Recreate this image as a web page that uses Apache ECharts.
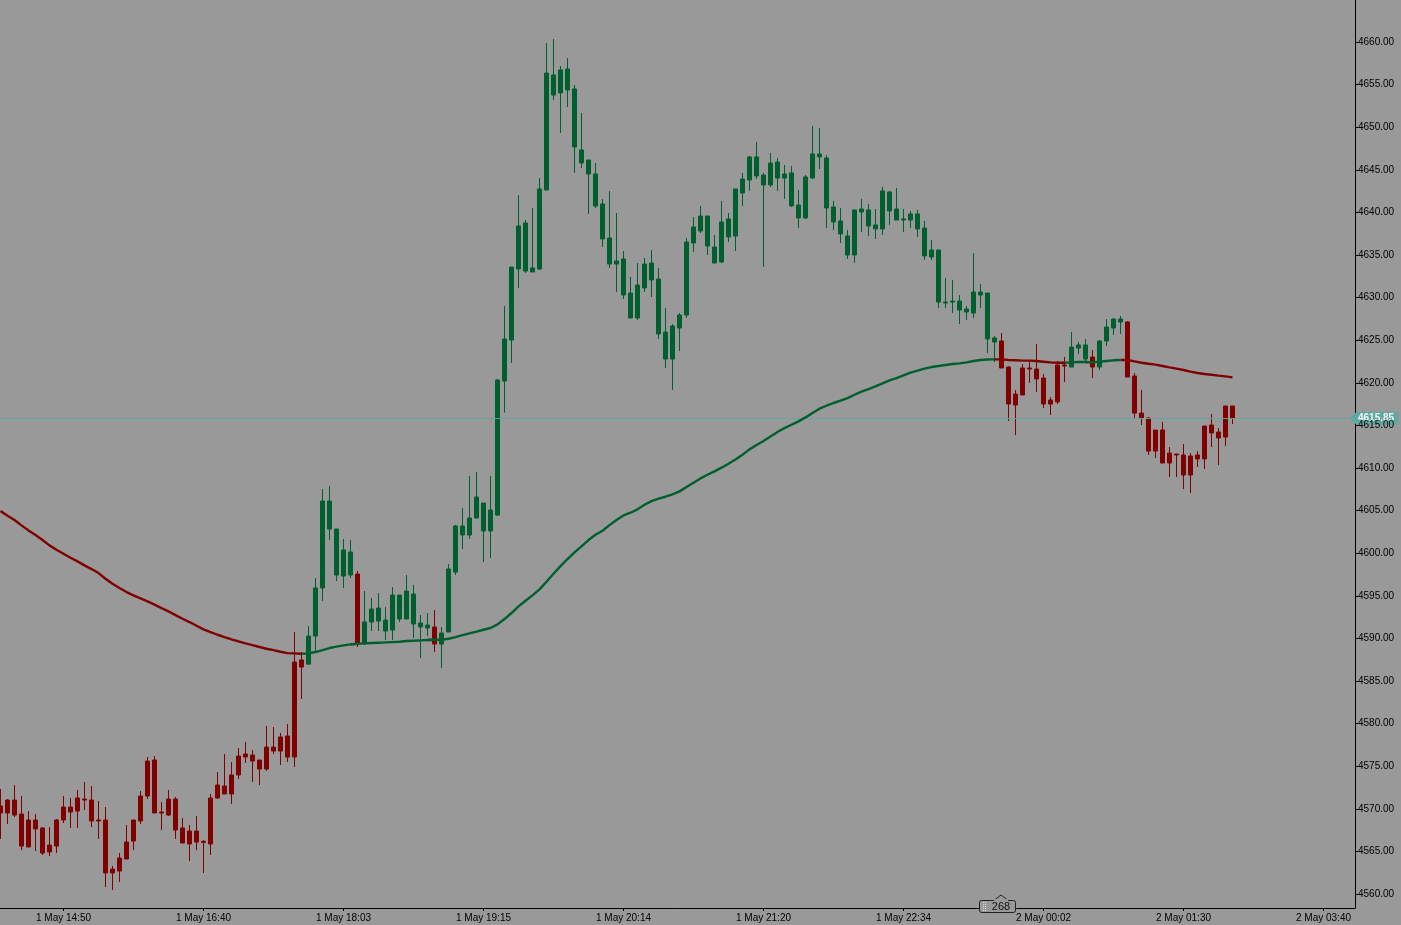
<!DOCTYPE html>
<html>
<head>
<meta charset="utf-8">
<title>Price chart</title>
<style>
  html, body { margin: 0; padding: 0; background: #999999; overflow: hidden; }
  #chart { width: 1401px; height: 925px; }
</style>
<script src="https://cdn.jsdelivr.net/npm/echarts@6/dist/echarts.min.js"></script>
</head>
<body>
<div id="chart"></div>
<script>
// one candle every 7px
const bodyTop = [
  4570.33, 4571.03, 4571.03, 4569.39, 4568.69, 4568.69, 4567.75, 4565.75, 4568.69, 4570.21,
  4570.21, 4571.27, 4571.15, 4571.03, 4568.69, 4568.69, 4562.93, 4564.23, 4566.10, 4568.69,
  4571.50, 4575.61, 4575.73, 4569.62, 4571.15, 4571.15, 4567.75, 4567.39, 4567.39, 4566.18,
  4571.27, 4572.79, 4572.68, 4573.97, 4576.20, 4576.43, 4576.31, 4575.73, 4577.25, 4577.25,
  4578.43, 4578.55, 4587.23, 4587.47, 4590.28, 4595.92, 4606.13, 4606.13, 4602.84, 4600.38,
  4600.14, 4597.56, 4591.93, 4593.45, 4593.57, 4592.16, 4595.09, 4595.09, 4595.56, 4595.21,
  4591.81, 4591.57, 4591.34, 4590.63, 4598.15, 4603.19, 4603.19, 4604.13, 4606.60, 4605.89,
  4605.07, 4620.33, 4625.14, 4633.59, 4638.41, 4638.76, 4633.48, 4642.75, 4656.36, 4656.13,
  4656.72, 4656.83, 4654.49, 4647.33, 4646.15, 4644.51, 4640.99, 4637.00, 4634.30, 4634.53,
  4630.54, 4631.48, 4633.94, 4634.06, 4632.18, 4625.96, 4626.67, 4627.96, 4636.53, 4638.29,
  4639.58, 4639.58, 4635.94, 4638.88, 4639.23, 4642.75, 4643.92, 4646.51, 4646.51, 4644.39,
  4645.80, 4645.92, 4644.51, 4644.63, 4640.87, 4644.16, 4646.86, 4646.86, 4646.39, 4640.64,
  4639.00, 4637.23, 4640.29, 4640.40, 4640.29, 4638.53, 4642.52, 4642.40, 4640.40, 4639.23,
  4639.82, 4639.82, 4638.17, 4635.59, 4635.59, 4629.48, 4629.60, 4629.60, 4628.66, 4630.66,
  4630.66, 4630.54, 4625.26, 4624.91, 4621.85, 4618.68, 4621.74, 4621.74, 4621.62, 4620.56,
  4617.98, 4622.09, 4622.09, 4624.20, 4624.44, 4624.44, 4623.03, 4624.91, 4626.55, 4627.49,
  4627.49, 4627.14, 4620.80, 4616.45, 4615.87, 4614.46, 4614.46, 4611.76, 4611.64, 4611.53,
  4611.41, 4611.53, 4614.93, 4615.05, 4614.22, 4617.28, 4617.28
];
const bodyBottom = [
  4569.51, 4569.51, 4569.27, 4565.63, 4565.52, 4567.63, 4564.81, 4564.93, 4565.63, 4568.69,
  4569.62, 4569.74, 4571.03, 4568.57, 4568.57, 4562.47, 4562.47, 4562.70, 4564.11, 4566.22,
  4568.57, 4571.50, 4569.51, 4569.51, 4569.27, 4567.51, 4565.99, 4565.87, 4566.10, 4566.06,
  4565.87, 4571.27, 4571.74, 4571.74, 4573.97, 4576.08, 4575.61, 4574.67, 4574.67, 4576.78,
  4576.78, 4576.08, 4576.08, 4586.64, 4586.98, 4590.28, 4595.92, 4602.84, 4597.44, 4597.32,
  4597.44, 4589.34, 4589.34, 4591.93, 4592.04, 4590.87, 4590.99, 4592.28, 4592.28, 4591.69,
  4591.34, 4591.22, 4589.34, 4589.34, 4590.75, 4597.79, 4602.14, 4602.14, 4604.13, 4602.61,
  4602.61, 4604.48, 4620.21, 4625.03, 4633.36, 4633.12, 4633.01, 4633.36, 4642.63, 4653.78,
  4654.02, 4654.37, 4647.68, 4645.80, 4644.51, 4640.75, 4636.88, 4633.94, 4633.94, 4630.31,
  4627.61, 4627.61, 4631.13, 4632.07, 4625.73, 4622.79, 4622.79, 4626.43, 4627.96, 4636.41,
  4637.82, 4636.06, 4634.06, 4634.18, 4637.12, 4637.23, 4642.28, 4643.81, 4644.28, 4643.22,
  4643.22, 4644.04, 4644.04, 4640.76, 4639.35, 4639.35, 4644.04, 4646.51, 4640.52, 4638.88,
  4637.47, 4635.00, 4635.00, 4640.05, 4638.41, 4638.06, 4638.06, 4640.17, 4639.11, 4639.11,
  4639.11, 4638.06, 4634.89, 4634.77, 4629.48, 4629.37, 4629.48, 4628.54, 4628.31, 4628.19,
  4630.30, 4625.14, 4624.79, 4621.74, 4617.51, 4617.39, 4618.57, 4621.62, 4620.45, 4617.51,
  4617.51, 4617.75, 4621.97, 4621.85, 4624.08, 4622.79, 4621.85, 4621.85, 4624.91, 4626.43,
  4627.14, 4620.68, 4616.45, 4615.87, 4611.99, 4611.99, 4610.59, 4610.59, 4611.53, 4609.18,
  4609.18, 4611.06, 4611.06, 4614.11, 4613.52, 4613.64, 4615.85
];
const wickHigh = [
  4572.32, 4571.15, 4572.79, 4571.50, 4569.74, 4569.39, 4567.86, 4567.86, 4568.80, 4571.50,
  4571.27, 4572.21, 4573.15, 4572.68, 4570.92, 4570.21, 4563.29, 4564.81, 4568.10, 4568.69,
  4572.09, 4576.08, 4576.20, 4570.80, 4572.21, 4571.39, 4568.92, 4568.10, 4569.16, 4566.34,
  4571.74, 4574.32, 4576.43, 4575.49, 4577.14, 4577.84, 4576.90, 4575.73, 4579.72, 4579.60,
  4578.90, 4579.95, 4590.75, 4588.40, 4591.46, 4597.09, 4607.54, 4607.89, 4602.84, 4601.67,
  4601.55, 4597.91, 4595.56, 4594.74, 4595.33, 4593.69, 4596.03, 4595.09, 4597.44, 4596.27,
  4592.75, 4592.98, 4593.33, 4591.34, 4598.73, 4603.31, 4605.31, 4609.06, 4609.53, 4605.89,
  4609.06, 4620.45, 4629.02, 4633.59, 4642.04, 4639.11, 4640.52, 4644.04, 4659.88, 4660.35,
  4657.18, 4658.12, 4654.95, 4651.67, 4646.15, 4645.80, 4641.57, 4642.51, 4639.93, 4635.47,
  4632.42, 4634.06, 4634.65, 4635.59, 4633.48, 4628.78, 4626.90, 4628.19, 4637.00, 4639.46,
  4640.75, 4639.58, 4637.35, 4641.34, 4639.93, 4642.75, 4644.63, 4646.62, 4648.27, 4644.63,
  4646.98, 4646.39, 4645.57, 4645.45, 4642.63, 4644.39, 4650.15, 4649.91, 4646.74, 4641.34,
  4640.52, 4637.94, 4640.29, 4641.58, 4640.99, 4640.40, 4642.99, 4642.52, 4642.87, 4640.40,
  4640.17, 4640.29, 4639.00, 4636.77, 4635.59, 4632.30, 4632.07, 4630.30, 4629.01, 4635.23,
  4631.60, 4630.54, 4625.49, 4625.84, 4621.97, 4619.15, 4622.21, 4622.68, 4624.55, 4621.03,
  4618.33, 4622.56, 4623.03, 4625.96, 4624.79, 4625.14, 4623.85, 4625.02, 4627.49, 4627.61,
  4627.84, 4627.25, 4621.15, 4619.15, 4615.98, 4614.46, 4615.40, 4612.46, 4611.64, 4612.82,
  4611.76, 4612.00, 4614.93, 4616.34, 4614.69, 4617.28, 4617.28
];
const wickLow = [
  4566.46, 4568.22, 4569.04, 4565.16, 4565.52, 4565.05, 4564.58, 4564.46, 4564.81, 4568.33,
  4567.75, 4567.75, 4569.86, 4567.86, 4566.46, 4560.82, 4560.47, 4561.41, 4564.11, 4565.16,
  4568.22, 4571.15, 4569.51, 4567.51, 4569.16, 4566.46, 4565.99, 4563.87, 4565.16, 4562.47,
  4564.58, 4571.15, 4571.74, 4570.56, 4573.50, 4575.38, 4573.15, 4572.79, 4574.44, 4576.43,
  4575.14, 4575.49, 4574.91, 4582.89, 4586.98, 4588.40, 4594.39, 4601.55, 4596.74, 4595.92,
  4597.09, 4588.99, 4589.34, 4590.87, 4590.87, 4589.81, 4589.81, 4591.93, 4592.28, 4590.05,
  4587.70, 4590.28, 4588.40, 4586.53, 4590.75, 4597.44, 4600.49, 4601.67, 4604.13, 4598.97,
  4599.44, 4604.37, 4616.50, 4622.33, 4631.13, 4632.89, 4633.01, 4633.24, 4642.63, 4653.19,
  4649.32, 4652.37, 4644.63, 4645.21, 4639.81, 4640.52, 4635.94, 4633.48, 4630.66, 4629.84,
  4627.61, 4627.37, 4630.66, 4630.07, 4625.14, 4621.74, 4619.16, 4623.73, 4627.61, 4635.35,
  4637.58, 4635.00, 4634.06, 4634.07, 4636.53, 4635.47, 4640.76, 4642.52, 4643.92, 4633.60,
  4642.99, 4642.52, 4641.58, 4640.64, 4638.17, 4639.23, 4643.92, 4645.10, 4638.17, 4637.94,
  4636.41, 4634.54, 4634.07, 4637.70, 4637.23, 4636.88, 4637.35, 4638.53, 4639.11, 4637.70,
  4638.17, 4637.12, 4634.42, 4634.42, 4628.78, 4628.78, 4628.19, 4626.90, 4627.37, 4627.61,
  4628.78, 4623.50, 4622.44, 4621.74, 4615.52, 4613.87, 4618.57, 4619.98, 4618.92, 4617.04,
  4616.22, 4617.51, 4620.09, 4621.85, 4623.38, 4622.32, 4620.56, 4621.50, 4624.32, 4625.61,
  4625.73, 4620.68, 4615.87, 4615.05, 4611.53, 4611.17, 4610.59, 4608.94, 4608.94, 4607.53,
  4607.06, 4610.12, 4609.88, 4612.46, 4610.35, 4612.58, 4615.16
];
const movingAvg = [
  4604.95, 4604.40, 4603.89, 4603.27, 4602.68, 4602.13, 4601.55, 4600.92, 4600.41, 4599.94,
  4599.47, 4599.04, 4598.57, 4598.14, 4597.67, 4597.01, 4596.42, 4595.91, 4595.44, 4595.05,
  4594.70, 4594.35, 4593.96, 4593.56, 4593.17, 4592.74, 4592.31, 4591.92, 4591.49, 4591.06,
  4590.75, 4590.43, 4590.16, 4589.89, 4589.65, 4589.42, 4589.22, 4588.99, 4588.79, 4588.63,
  4588.44, 4588.28, 4588.24, 4588.20, 4588.24, 4588.40, 4588.63, 4588.87, 4589.03, 4589.18,
  4589.30, 4589.38, 4589.42, 4589.46, 4589.50, 4589.53, 4589.57, 4589.61, 4589.69, 4589.73,
  4589.77, 4589.81, 4589.85, 4589.85, 4589.96, 4590.16, 4590.39, 4590.59, 4590.79, 4591.02,
  4591.22, 4591.65, 4592.27, 4592.98, 4593.76, 4594.42, 4595.05, 4595.75, 4596.65, 4597.59,
  4598.49, 4599.32, 4600.10, 4600.80, 4601.55, 4602.17, 4602.64, 4603.30, 4603.90, 4604.44,
  4604.75, 4605.15, 4605.69, 4606.12, 4606.40, 4606.63, 4606.91, 4607.26, 4607.77, 4608.28,
  4608.78, 4609.21, 4609.61, 4610.04, 4610.51, 4611.01, 4611.56, 4612.19, 4612.70, 4613.17,
  4613.71, 4614.22, 4614.69, 4615.08, 4615.47, 4615.94, 4616.45, 4616.96, 4617.31, 4617.63,
  4617.90, 4618.21, 4618.60, 4618.96, 4619.27, 4619.58, 4619.93, 4620.29, 4620.56, 4620.87,
  4621.19, 4621.42, 4621.66, 4621.85, 4621.97, 4622.09, 4622.21, 4622.28, 4622.40, 4622.56,
  4622.68, 4622.73, 4622.75, 4622.75, 4622.68, 4622.64, 4622.60, 4622.60, 4622.56, 4622.48,
  4622.40, 4622.36, 4622.36, 4622.40, 4622.44, 4622.44, 4622.40, 4622.48, 4622.56, 4622.64,
  4622.68, 4622.68, 4622.52, 4622.36, 4622.24, 4622.13, 4621.97, 4621.81, 4621.66, 4621.50,
  4621.31, 4621.15, 4621.03, 4620.95, 4620.84, 4620.76, 4620.64
];
// candle index ranges drawn in red, everything else is green
const redRuns = [[0, 43], [51, 51], [62, 62], [143, 152], [156, 156], [161, 176]];
const timeLabels = [
  '1 May 14:50', '1 May 16:40', '1 May 18:03', '1 May 19:15', '1 May 20:14',
  '1 May 21:20', '1 May 22:34', '2 May 00:02', '2 May 01:30', '2 May 03:40'
];
const priceTicks = [
  4560, 4565, 4570, 4575, 4580, 4585, 4590, 4595, 4600, 4605, 4610, 4615, 4620, 4625, 4630,
  4635, 4640, 4645, 4650, 4655, 4660
];
const lastPrice = 4615.85;
const barsCount = 268;

const RED = '#800000';
const GREEN = '#005f2e';
const TEAL = '#5ca8a3';
const SLOTS = 194; // candles plus the empty space on the right
const LABEL_FONT = { fontFamily: 'Liberation Sans', fontSize: 10, color: '#000000' };

const isRed = i => redRuns.some(r => i >= r[0] && i <= r[1]);
const isTimeTick = i => i >= 9 && (i - 9) % 20 === 0;

const categories = [];
for (let i = 0; i < SLOTS; i++) {
  categories.push(isTimeTick(i) ? timeLabels[(i - 9) / 20] : '');
}

const candles = bodyTop.map((top, i) => {
  const c = isRed(i) ? RED : GREEN;
  return {
    value: [bodyBottom[i], top, wickLow[i], wickHigh[i]],
    itemStyle: { color: c, color0: c, borderColor: c, borderColor0: c, borderWidth: 1 }
  };
});

// the average takes the colour of the candle each segment leads to
function maSeries(name, color, wantRed) {
  const data = movingAvg.map((v, i) => {
    const here = isRed(i) === wantRed;
    const next = i + 1 < movingAvg.length && isRed(i + 1) === wantRed;
    return here || next ? v : null;
  });
  return {
    name: name,
    type: 'line',
    data: data,
    showSymbol: false,
    connectNulls: false,
    silent: true,
    z: 5,
    lineStyle: { color: color, width: 2.4 }
  };
}

const myChart = echarts.init(document.getElementById('chart'));
myChart.setOption({
  animation: false,
  backgroundColor: '#999999',
  grid: { left: -3, top: 0, width: 1358, height: 908, outerBoundsMode: 'none' },
  xAxis: {
    type: 'category',
    data: categories,
    boundaryGap: true,
    axisLine: { show: true, lineStyle: { color: '#000000', width: 1 } },
    axisTick: { show: true, alignWithLabel: true, interval: isTimeTick, length: 3, lineStyle: { color: '#000000' } },
    axisLabel: Object.assign({ interval: isTimeTick, margin: 5 }, LABEL_FONT),
    splitLine: { show: false }
  },
  yAxis: {
    type: 'value',
    position: 'right',
    scale: true,
    min: 4558.36,
    max: 4664.93,
    z: 10,
    axisLine: { show: true, lineStyle: { color: '#000000', width: 1 } },
    axisTick: { show: true, customValues: priceTicks, length: 3, lineStyle: { color: '#000000' } },
    axisLabel: Object.assign({ customValues: priceTicks, margin: 3, padding: [4, 0, 0, 0], formatter: v => v.toFixed(2) }, LABEL_FONT),
    splitLine: { show: false }
  },
  series: [
    {
      name: 'price',
      type: 'candlestick',
      data: candles,
      barWidth: 4,
      silent: true,
      markLine: {
        silent: true,
        symbol: 'none',
        lineStyle: { color: TEAL, width: 1, type: 'solid', opacity: 0.9 },
        label: {
          position: 'end',
          distance: 0,
          formatter: () => lastPrice.toFixed(2),
          color: '#ffffff',
          fontFamily: 'Liberation Sans',
          fontSize: 10,
          fontWeight: 'bold',
          backgroundColor: TEAL,
          borderRadius: 3,
          padding: [2, 4, 1, 3]
        },
        data: [{ yAxis: lastPrice }]
      }
    },
    maSeries('avg red', RED, true),
    maSeries('avg green', GREEN, false)
  ],
  graphic: [
    {
      type: 'polygon',
      z: 50,
      shape: { points: [[993, 901], [1001, 895], [1009, 901]] },
      style: { fill: '#999999', stroke: '#222222', lineWidth: 1 }
    },
    {
      type: 'rect',
      z: 50,
      shape: { x: 979.5, y: 900.5, width: 36, height: 12, r: 2 },
      style: { fill: '#999999', stroke: '#222222', lineWidth: 1 }
    },
    {
      type: 'rect',
      z: 51,
      shape: { x: 994, y: 899, width: 14, height: 3 },
      style: { fill: '#999999' }
    },
    {
      type: 'line',
      z: 51,
      shape: { x1: 983.5, y1: 902, x2: 983.5, y2: 911 },
      style: { stroke: '#dddddd', lineWidth: 1, lineDash: [1, 1] }
    },
    {
      type: 'line',
      z: 51,
      shape: { x1: 985.5, y1: 902, x2: 985.5, y2: 911 },
      style: { stroke: '#dddddd', lineWidth: 1, lineDash: [1, 1] }
    },
    {
      type: 'text',
      z: 52,
      style: {
        x: 1001, y: 907, text: String(barsCount), align: 'center', verticalAlign: 'middle',
        fill: '#111111', font: '11px "Liberation Sans"'
      }
    }
  ]
});

// little pointer on the left of the price tag, placed from the axis scale
const tagY = myChart.convertToPixel({ yAxisIndex: 0 }, lastPrice);
const tagX = myChart.convertToPixel({ xAxisIndex: 0 }, SLOTS - 1) + 3.5;
myChart.setOption({
  graphic: [{
    id: 'tagPointer',
    type: 'polygon',
    z: 40,
    shape: { points: [[tagX - 5, tagY], [tagX + 1, tagY - 6], [tagX + 1, tagY + 6]] },
    style: { fill: TEAL }
  }]
});
</script>
</body>
</html>
